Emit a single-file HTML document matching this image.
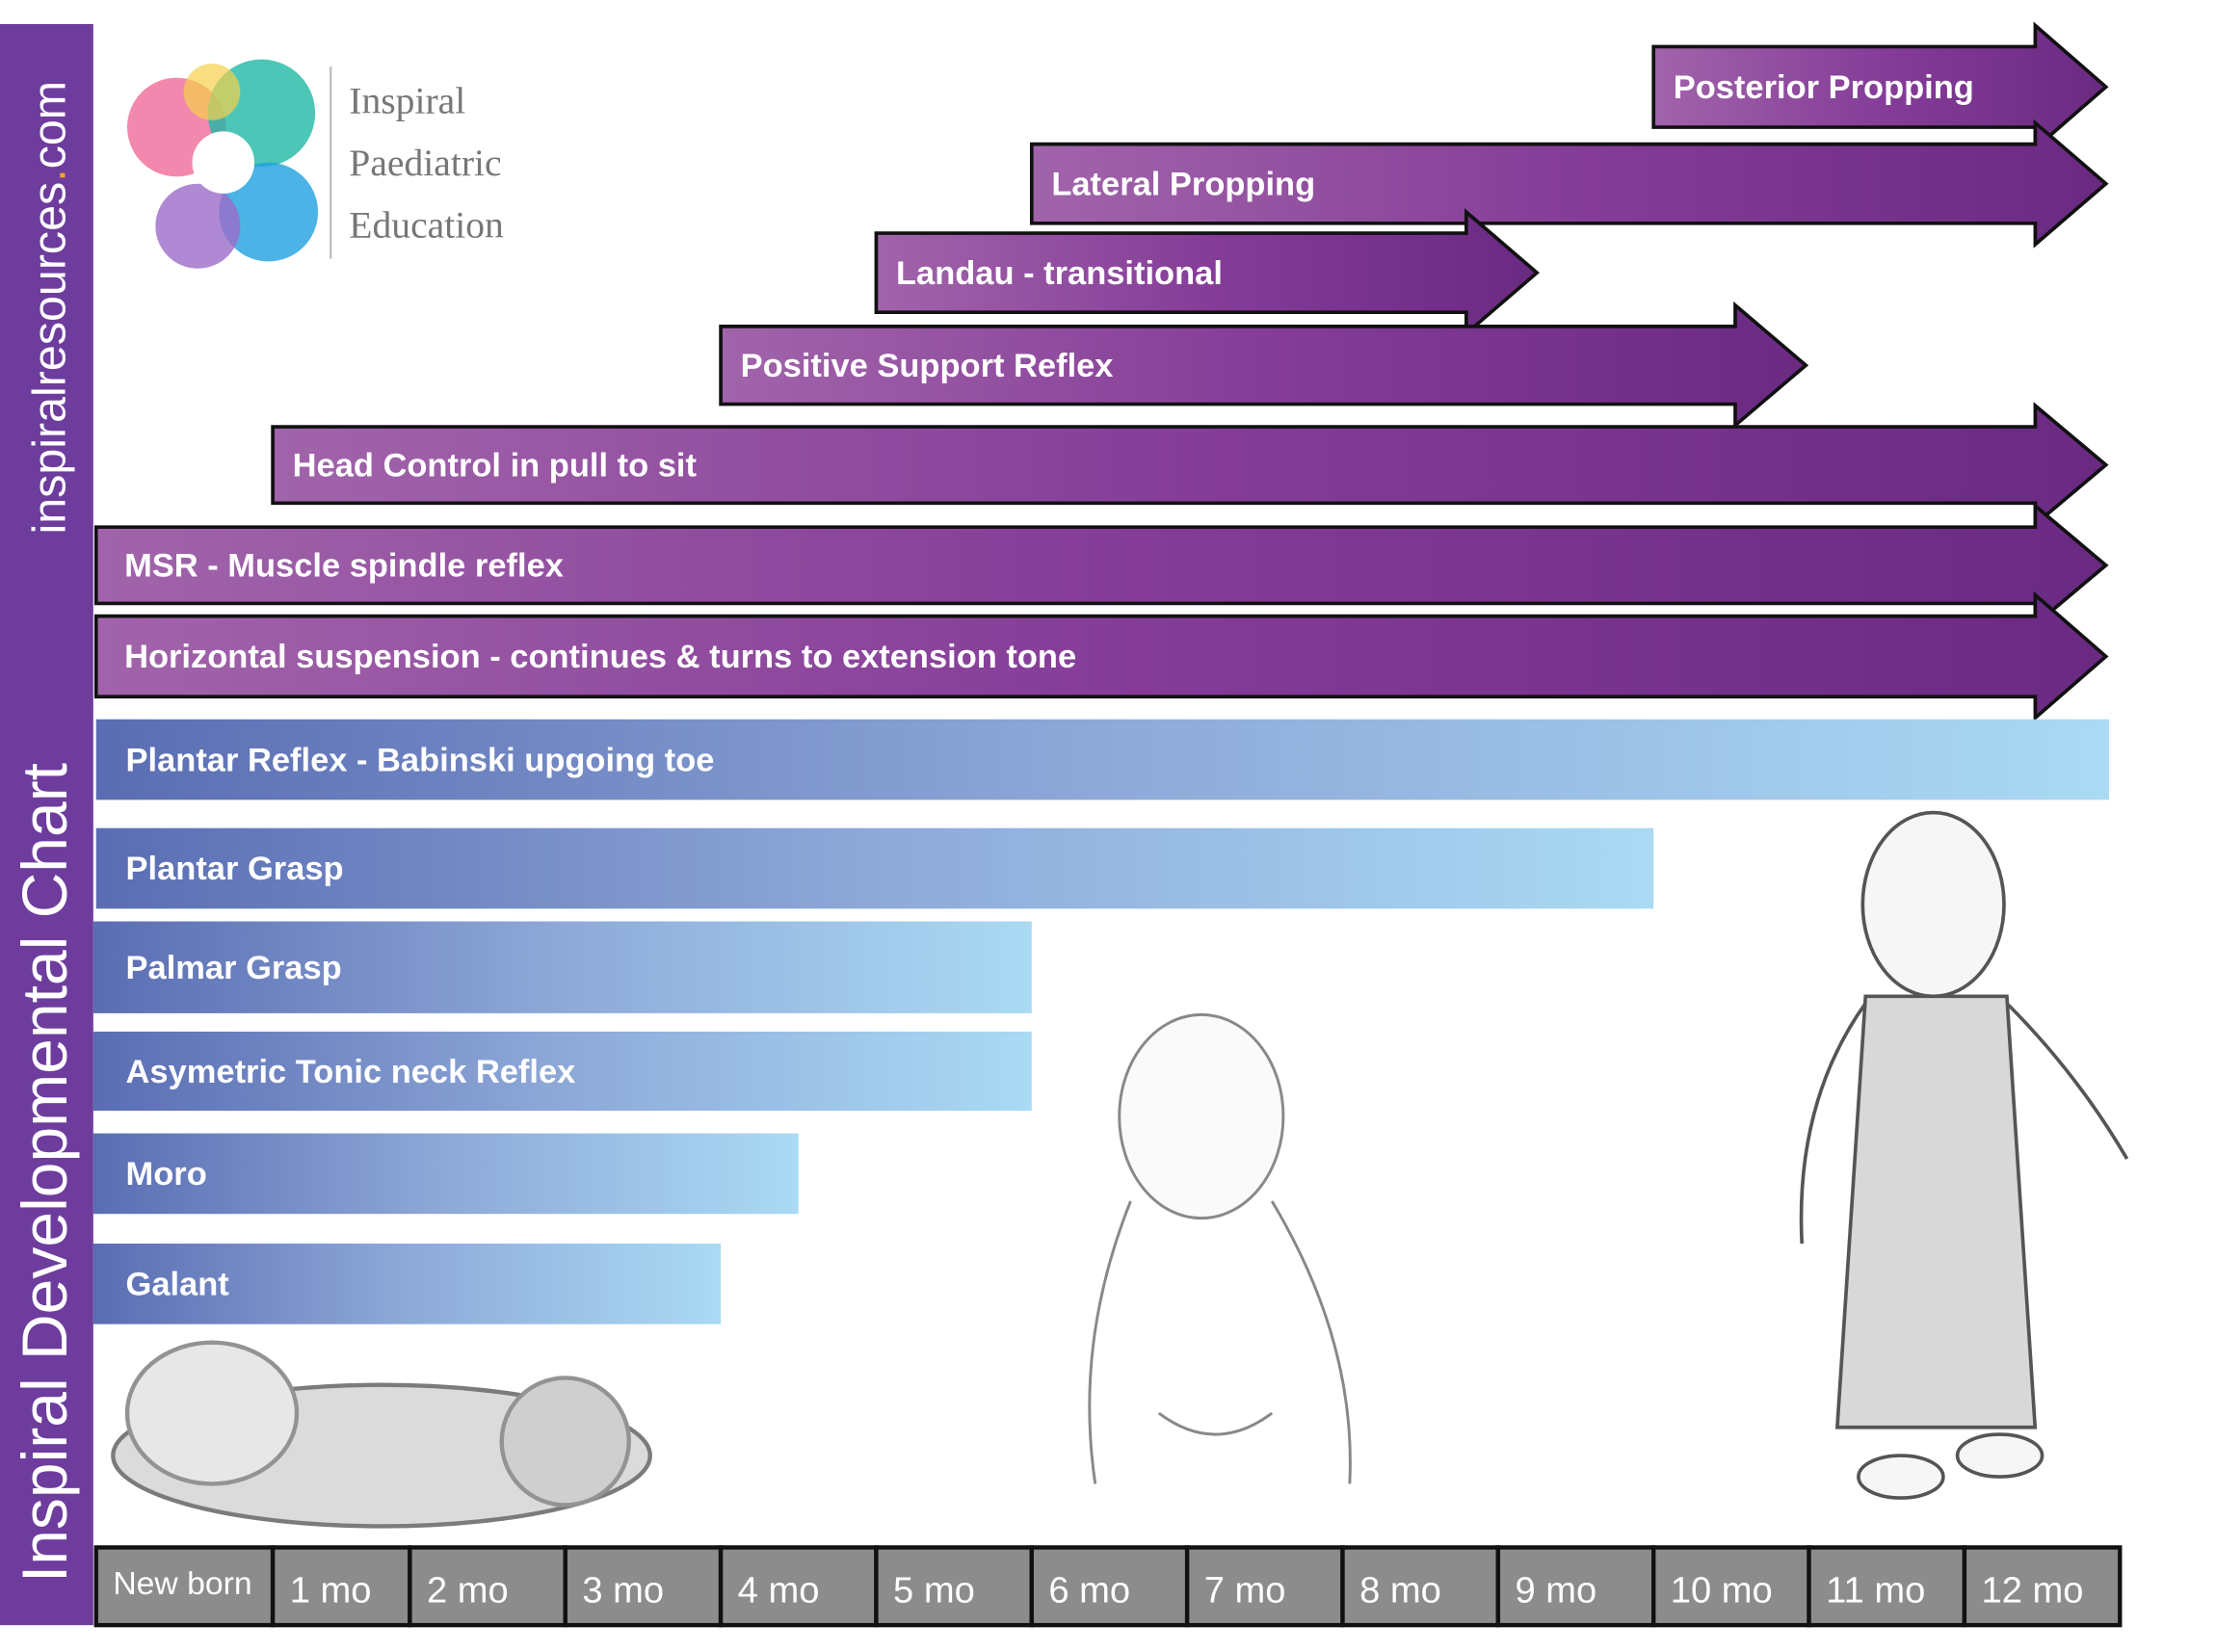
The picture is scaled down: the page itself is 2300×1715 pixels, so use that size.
<!DOCTYPE html>
<html><head><meta charset="utf-8"><style>
html,body{margin:0;padding:0;background:#fff;}
svg{display:block;}
</style></head><body>
<svg id="chart" width="2300" height="1715" viewBox="0 0 1568 1169" preserveAspectRatio="none" xmlns="http://www.w3.org/2000/svg">
<defs>
<linearGradient id="gp" x1="0" x2="1" y1="0" y2="0"><stop offset="0" stop-color="#a164aa"/><stop offset="0.5" stop-color="#853d98"/><stop offset="1" stop-color="#6a2a82"/></linearGradient>
<linearGradient id="gb" x1="0" x2="1" y1="0" y2="0"><stop offset="0" stop-color="#5a6db3"/><stop offset="0.5" stop-color="#8ea9d8"/><stop offset="1" stop-color="#aadaf4"/></linearGradient>
</defs>
<rect x="0" y="17" width="66" height="1133" fill="#6e3c9d"/>
<text transform="translate(46,378) rotate(-90)" font-family="Liberation Sans, sans-serif" font-size="33" fill="#fff">inspiralresources<tspan fill="#f5a623">.</tspan>com</text>
<text transform="translate(47,1120) rotate(-90)" font-family="Liberation Sans, sans-serif" font-size="45" fill="#fff">Inspiral Developmental Chart</text>
<g>
<circle cx="125" cy="90" r="35" fill="#f06a9a" opacity="0.8"/>
<circle cx="185" cy="80" r="38" fill="#1fb8a5" opacity="0.8"/>
<circle cx="190" cy="150" r="35" fill="#1ea0e0" opacity="0.8"/>
<circle cx="140" cy="160" r="30" fill="#9b6cc8" opacity="0.8"/>
<circle cx="150" cy="65" r="20" fill="#f5d04a" opacity="0.7"/>
<circle cx="158" cy="115" r="22" fill="#fff"/>
</g>
<line x1="234" y1="47" x2="234" y2="183" stroke="#bbb" stroke-width="1.5"/>
<g font-family="Liberation Serif, serif" font-size="27" fill="#777">
<text x="247" y="80">Inspiral</text><text x="247" y="124">Paediatric</text><text x="247" y="168">Education</text>
</g>
<g fill="none" stroke="#666" stroke-width="3" opacity="0.7">
<ellipse cx="270" cy="1030" rx="190" ry="50" fill="#ccc" stroke="#444"/>
<ellipse cx="400" cy="1020" rx="45" ry="45" fill="#bbb"/>
<ellipse cx="150" cy="1000" rx="60" ry="50" fill="#ddd"/>
</g>
<g fill="#fafafa" stroke="#888" stroke-width="2">
<ellipse cx="850" cy="790" rx="58" ry="72"/>
<path d="M800 850 Q760 950 775 1050 M900 850 Q960 950 955 1050 M820 1000 Q860 1030 900 1000" fill="none"/>
</g>
<g fill="#f6f6f6" stroke="#555" stroke-width="2.5">
<ellipse cx="1368" cy="640" rx="50" ry="65"/>
<path d="M1320 705 L1420 705 L1440 1010 L1300 1010 Z" fill="#d8d8d8"/>
<path d="M1320 710 Q1270 780 1275 880 M1420 710 Q1470 760 1505 820" fill="none"/>
<ellipse cx="1345" cy="1045" rx="30" ry="15"/><ellipse cx="1415" cy="1030" rx="30" ry="15"/>
</g>
<g id="bars"></g>
<g id="axis"></g>
<script>
const monthLabels=["New born","1 mo","2 mo","3 mo","4 mo","5 mo","6 mo","7 mo","8 mo","9 mo","10 mo","11 mo","12 mo"];
const arrowNames=["Posterior Propping","Lateral Propping","Landau - transitional","Positive Support Reflex","Head Control in pull to sit","MSR - Muscle spindle reflex","Horizontal suspension  - continues & turns to extension tone"];
const arrowStart=[10,6,5,4,1,0,0];
const arrowEnd=[12.91,12.91,9.25,10.98,12.91,12.91,12.91];
const blueNames=["Plantar Reflex - Babinski upgoing toe","Plantar Grasp","Palmar Grasp","Asymetric Tonic neck Reflex","Moro","Galant"];
const blueStart=[0,0,0,0,0,0];
const blueEnd=[12.93,10,6,6,4.5,4];
const NS="http://www.w3.org/2000/svg";
const bnd=[68,193,290,400,510,620,730,840,950,1060,1170,1280,1390,1500];
function xs(m){const i=Math.max(0,Math.min(12,Math.floor(m)));return bnd[i]+(m-i)*(bnd[i+1]-bnd[i]);}
const arrowTop=[33,102,165,231,302,373,436],arrowH=[57,56,56,55,54,54,57];
const blueTop=[509,586,652,730,802,880],blueH=[57,57,65,56,57,57];
const g=document.getElementById('bars');
arrowNames.forEach((n,i)=>{
 const x0=xs(arrowStart[i]),tip=xs(arrowEnd[i]),s=tip-50,y=arrowTop[i],h=arrowH[i],m=y+h/2;
 const p=document.createElementNS(NS,'path');
 p.setAttribute('d',`M${x0} ${y}H${s}V${m-h/2-15}L${tip} ${m}L${s} ${m+h/2+15}V${y+h}H${x0}Z`);
 p.setAttribute('fill','url(#gp)');p.setAttribute('stroke','#111');p.setAttribute('stroke-width','2.5');
 
 
 g.appendChild(p);
 const t=document.createElementNS(NS,'text');
 t.setAttribute('x',x0+(i<5?14:20));t.setAttribute('y',m+8);t.setAttribute('fill','#fff');
 t.setAttribute('font-family','Liberation Sans, sans-serif');t.setAttribute('font-weight','bold');t.setAttribute('font-size','23.5');
 t.textContent=n;
 
 
 g.appendChild(t);
});
blueNames.forEach((n,i)=>{
 const x0=xs(blueStart[i])-(i>=2?2:0),x1=xs(blueEnd[i]),y=blueTop[i],h=blueH[i];
 const r=document.createElementNS(NS,'rect');
 r.setAttribute('x',x0);r.setAttribute('y',y);r.setAttribute('width',x1-x0);r.setAttribute('height',h);r.setAttribute('fill','url(#gb)');
 
 
 g.appendChild(r);
 const t=document.createElementNS(NS,'text');
 t.setAttribute('x',89);t.setAttribute('y',y+h/2+8);t.setAttribute('fill','#fff');
 t.setAttribute('font-family','Liberation Sans, sans-serif');t.setAttribute('font-weight','bold');t.setAttribute('font-size','23.5');
 t.textContent=n;
 
 
 g.appendChild(t);
});
const a=document.getElementById('axis');
monthLabels.forEach((l,i)=>{
 const x0=xs(i),x1=xs(i+1);
 const r=document.createElementNS(NS,'rect');
 r.setAttribute('x',x0);r.setAttribute('y',1095);r.setAttribute('width',x1-x0);r.setAttribute('height',55);
 r.setAttribute('fill','#8c8c8c');r.setAttribute('stroke','#111');r.setAttribute('stroke-width','3');
 
 
 a.appendChild(r);
 const t=document.createElementNS(NS,'text');
 t.setAttribute('x',x0+12);t.setAttribute('y',i==0?1128:1134);t.setAttribute('fill','#fff');
 t.setAttribute('font-family','Liberation Sans, sans-serif');t.setAttribute('font-size',i==0?'23':'26');
 t.textContent=l;
 
 
 a.appendChild(t);
});
</script>
</svg>
</body></html>
